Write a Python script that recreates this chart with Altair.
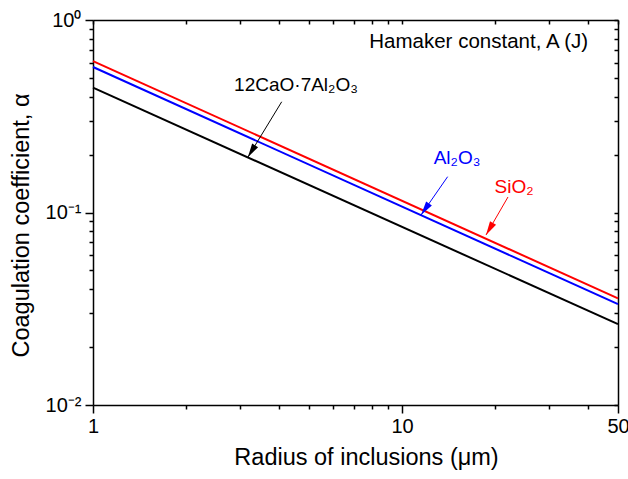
import altair as alt
import pandas as pd

# ---- data ----
radius = [1, 50]
sio2 = [0.612, 0.0358]
al2o3 = [0.570, 0.0334]
c12a7 = [0.445, 0.0263]

series_names = ["SiO₂", "Al₂O₃", "12CaO·7Al₂O₃"]
series_colors = ["#ff0000", "#0000ff", "#000000"]

x_major = [1, 10, 50]
x_major_labels = ["1", "10", "50"]
x_minor = [2, 3, 4, 5, 6, 7, 8, 9, 20, 30, 40]
y_major = [0.01, 0.1, 1]
y_major_labels = ["10⁻²", "10⁻¹", "10⁰"]
y_minor = [0.02, 0.03, 0.04, 0.05, 0.06, 0.07, 0.08, 0.09,
           0.2, 0.3, 0.4, 0.5, 0.6, 0.7, 0.8, 0.9]

# annotations (data coordinates)
ann_text = ["12CaO·7Al₂O₃", "Al₂O₃", "SiO₂"]
ann_x = [4.54, 15.07, 23.04]
ann_y = [0.4277, 0.1786, 0.1267]
arrow_x = [4.08, 14.05, 22.03]
arrow_y = [0.376, 0.1535, 0.1204]
arrow_x2 = [3.17, 11.52, 18.70]
arrow_y2 = [0.1935, 0.0970, 0.0764]
arrow_angle = [211.4, 214.9, 210.1]
ann_colors = ["#000000", "#0000ff", "#ff0000"]

hamaker_text = ["Hamaker constant, A (J)"]
hamaker_x = [40]
hamaker_y = [0.715]

# ---- tables ----
rows = []
for name, vals in zip(series_names, [sio2, al2o3, c12a7]):
    for r, v in zip(radius, vals):
        rows.append({"radius": r, "alpha": v, "series": name})
lines_df = pd.DataFrame(rows)

ann_df = pd.DataFrame({"text": ann_text, "x": ann_x, "y": ann_y,
                       "ax": arrow_x, "ay": arrow_y, "ax2": arrow_x2, "ay2": arrow_y2,
                       "angle": arrow_angle, "color": ann_colors})
ham_df = pd.DataFrame({"text": hamaker_text, "x": hamaker_x, "y": hamaker_y})

xscale = alt.Scale(type="log", domain=[1, 50], nice=False)
yscale = alt.Scale(type="log", domain=[0.01, 1], nice=False)


def label_expr(vals, labels):
    expr = "''"
    for v, l in zip(vals, labels):
        expr = f"abs(datum.value - {v}) < {v*1e-3} ? '{l}' : " + expr
    return expr


common_axis = dict(grid=False, domainColor="black", domainWidth=1.5,
                   tickColor="black", tickWidth=1.5, labelColor="black",
                   titleColor="black")

x_main = alt.Axis(values=x_major, labelExpr=label_expr(x_major, x_major_labels),
                  tickSize=8, labelFontSize=20, labelPadding=3,
                  title="Radius of inclusions (μm)", titleFontSize=23.5,
                  titleFontWeight="normal", titlePadding=9, titleX=273,
                  labelFlush=False, orient="bottom", **common_axis)
y_main = alt.Axis(values=y_major, labelExpr=label_expr(y_major, y_major_labels),
                  tickSize=8, labelFontSize=20, labelPadding=4,
                  title="Coagulation coefficient, α", titleFontSize=23.5,
                  titleFontWeight="normal", titlePadding=12, titleY=205,
                  labelFlush=False, orient="left", **common_axis)

lines = alt.Chart(lines_df).mark_line(strokeWidth=2).encode(
    x=alt.X("radius:Q", scale=xscale, axis=x_main),
    y=alt.Y("alpha:Q", scale=yscale, axis=y_main),
    color=alt.Color("series:N", scale=alt.Scale(domain=series_names, range=series_colors),
                    legend=None),
    detail="series:N",
)

minor = alt.Chart(lines_df).mark_line(strokeOpacity=0).encode(
    x=alt.X("radius:Q", scale=xscale,
            axis=alt.Axis(values=x_minor, labels=False, tickSize=4, title=None,
                          domain=False, orient="bottom", grid=False,
                          tickColor="black", tickWidth=1.5)),
    y=alt.Y("alpha:Q", scale=yscale,
            axis=alt.Axis(values=y_minor, labels=False, tickSize=4, title=None,
                          domain=False, orient="left", grid=False,
                          tickColor="black", tickWidth=1.5)),
    detail="series:N",
)

mirror = alt.Chart(lines_df).mark_line(strokeOpacity=0).encode(
    x=alt.X("radius:Q", scale=xscale,
            axis=alt.Axis(values=x_major + x_minor, labels=False, tickSize=4, title=None,
                          orient="bottom", offset=-385, **common_axis)),
    y=alt.Y("alpha:Q", scale=yscale,
            axis=alt.Axis(values=y_major + y_minor, labels=False, tickSize=4, title=None,
                          orient="left", offset=-525, **common_axis)),
    detail="series:N",
)

rules = alt.Chart(ann_df).mark_rule(strokeWidth=1).encode(
    x=alt.X("ax:Q", scale=xscale, axis=None), y=alt.Y("ay:Q", scale=yscale, axis=None),
    x2="ax2:Q", y2="ay2:Q",
    color=alt.Color("color:N", scale=None),
)

heads = alt.Chart(ann_df).mark_point(
    shape="M0,0L-0.5,2L0.5,2Z", filled=True, size=196, opacity=1, strokeWidth=0
).encode(
    x=alt.X("ax2:Q", scale=xscale, axis=None), y=alt.Y("ay2:Q", scale=yscale, axis=None),
    angle=alt.Angle("angle:Q", scale=None),
    color=alt.Color("color:N", scale=None),
)

labels = alt.Chart(ann_df).mark_text(fontSize=19, align="center", baseline="alphabetic").encode(
    x=alt.X("x:Q", scale=xscale, axis=None), y=alt.Y("y:Q", scale=yscale, axis=None),
    text="text:N",
    color=alt.Color("color:N", scale=None),
)

ham = alt.Chart(ham_df).mark_text(fontSize=20.5, align="right", baseline="alphabetic",
                                  color="black").encode(
    x=alt.X("x:Q", scale=xscale, axis=None), y=alt.Y("y:Q", scale=yscale, axis=None),
    text="text:N",
)

chart = alt.layer(lines, minor, mirror, rules, heads, labels, ham).resolve_axis(
    x="independent", y="independent"
).properties(
    width=525, height=385,
    autosize=alt.AutoSizeParams(type="none"),
    padding={"left": 93, "top": 20, "right": 10, "bottom": 74},
).configure(
    font="Liberation Sans"
).configure_view(stroke=None)

chart.save("out.html", embed_options={"renderer": "svg", "actions": False})
